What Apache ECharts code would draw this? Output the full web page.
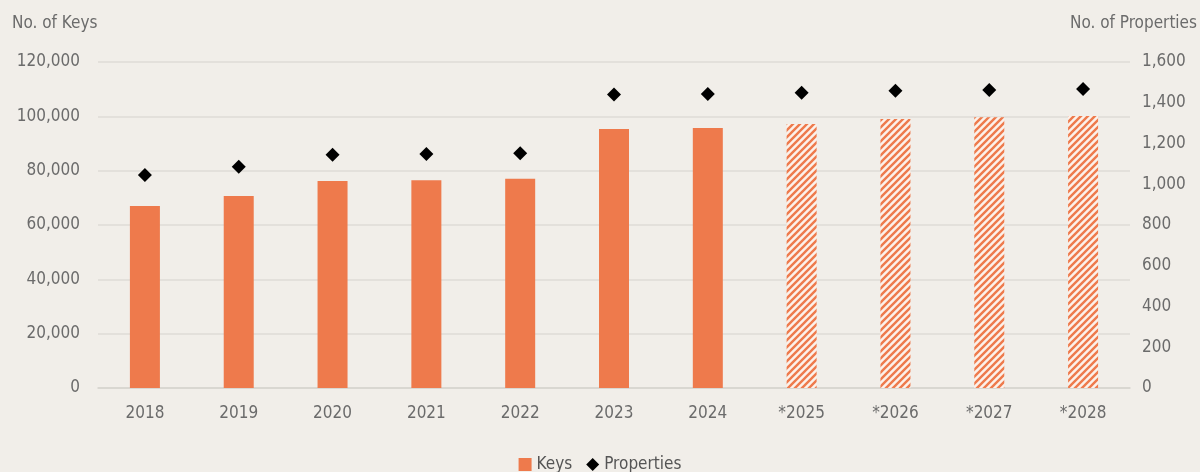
<!DOCTYPE html>
<html>
<head>
<meta charset="utf-8">
<script src="https://cdn.jsdelivr.net/npm/echarts@6/dist/echarts.min.js"></script>
<style>
html,body{margin:0;padding:0;background:#f1eee9;}
#c{width:1200px;height:472px;}
</style>
</head>
<body>
<div id="c"></div>
<script>
var categories = ['2018','2019','2020','2021','2022','2023','2024','*2025','*2026','*2027','*2028'];
var keys = [67000, 70700, 76200, 76500, 77000, 95300, 95700, 97200, 99000, 99700, 100100];
var properties = [1045, 1086, 1145, 1148, 1152, 1441, 1443, 1449, 1459, 1463, 1467];
var forecastFrom = 7;
var leftTicks = { min: 0, max: 120000, interval: 20000 };
var rightTicks = { min: 0, max: 1600, interval: 200 };

var FONT = '"Liberation Sans Narrow", "DejaVu Sans Condensed", "Roboto Condensed", sans-serif';
var ORANGE = '#ee7a4c';
var TXT = '#6b6b6b';

// hatch pattern
var P = 7;
var pc = document.createElement('canvas');
pc.width = P; pc.height = P;
var g = pc.getContext('2d');
g.fillStyle = '#fcf1ea';
g.fillRect(0,0,P,P);
g.strokeStyle = ORANGE;
g.lineWidth = 2.4;
g.beginPath();
for (var k = -1; k <= 1; k++) {
  g.moveTo(-1 + k*P, P + 1); g.lineTo(P + 1 + k*P, -1);
}
g.stroke();

var barData = keys.map(function(v,i){
  if (i >= forecastFrom) {
    return { value: v, itemStyle: { color: { image: pc, repeat: 'repeat' } } };
  }
  return v;
});

var chart = echarts.init(document.getElementById('c'));
chart.setOption({
  backgroundColor: '#f1eee9',
  animation: false,
  textStyle: { fontFamily: FONT },
  grid: { left: 98, right: 70, top: 62, bottom: 84 },
  legend: {
    top: 451,
    left: 'center',
    itemWidth: 13, itemHeight: 13, itemGap: 14,
    textStyle: { fontFamily: FONT, fontSize: 17, color: '#555' },
    data: [
      { name: 'Keys', icon: 'rect' },
      { name: 'Properties', icon: 'diamond', itemStyle: { color: '#000', opacity: 1 } }
    ]
  },
  graphic: [
    { type: 'text', left: 12, top: 15, style: { text: 'No. of Keys', font: '17px ' + FONT, fill: TXT } },
    { type: 'text', right: 3, top: 15, style: { text: 'No. of Properties', font: '17px ' + FONT, fill: TXT } }
  ],
  xAxis: {
    type: 'category',
    data: categories,
    axisTick: { show: false },
    axisLine: { lineStyle: { color: '#d6d3ce', width: 1.5 } },
    axisLabel: { color: TXT, fontSize: 17, margin: 17, fontFamily: FONT }
  },
  yAxis: [
    {
      type: 'value',
      min: leftTicks.min, max: leftTicks.max, interval: leftTicks.interval,
      axisLine: { show: false }, axisTick: { show: false },
      splitLine: { lineStyle: { color: '#dedbd6', width: 1.5 } },
      axisLabel: {
        color: TXT, fontSize: 17, margin: 18, fontFamily: FONT,
        formatter: function(v){ return v.toLocaleString('en-US'); }
      }
    },
    {
      type: 'value',
      min: rightTicks.min, max: rightTicks.max, interval: rightTicks.interval,
      axisLine: { show: false }, axisTick: { show: false },
      splitLine: { show: false },
      axisLabel: {
        color: TXT, fontSize: 17, margin: 12, fontFamily: FONT,
        formatter: function(v){ return v.toLocaleString('en-US'); }
      }
    }
  ],
  series: [
    {
      name: 'Keys',
      type: 'bar',
      barWidth: 30,
      itemStyle: { color: ORANGE },
      data: barData
    },
    {
      name: 'Properties',
      type: 'scatter',
      yAxisIndex: 1,
      symbol: 'diamond',
      symbolSize: 14,
      itemStyle: { color: '#000', opacity: 1 },
      data: properties
    }
  ]
});
</script>
</body>
</html>
